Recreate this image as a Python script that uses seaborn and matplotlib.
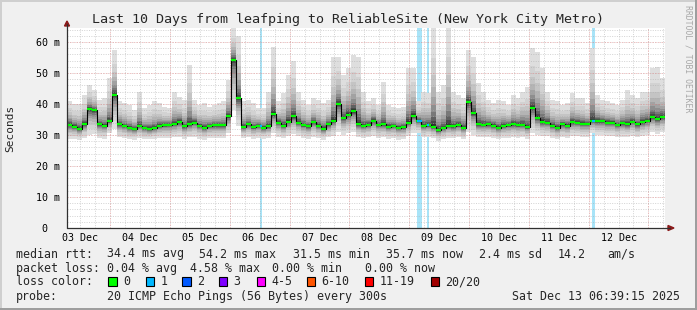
import numpy as np
import pandas as pd
import matplotlib
matplotlib.use("Agg")
import matplotlib.pyplot as plt
import seaborn as sns
from matplotlib.patches import Rectangle, Polygon
from matplotlib.lines import Line2D

# ---------------- data (2-hour bins starting 03 Dec 06:39) ----------------
median_ms = [
    33.3, 32.7, 32.0, 33.5, 38.4, 38.0, 33.4, 33.0, 34.5, 42.9,
    33.5, 32.9, 32.3, 31.9, 33.0, 32.3, 32.0, 32.4, 33.0, 33.2,
    33.3, 33.6, 34.2, 32.8, 33.4, 34.0, 33.0, 32.3, 33.0, 33.1,
    33.1, 33.2, 36.0, 54.2, 41.8, 32.7, 33.4, 32.5, 33.0, 32.4,
    32.8, 36.7, 34.0, 33.0, 34.3, 36.0, 34.0, 33.2, 32.8, 34.2,
    33.0, 32.0, 33.4, 34.5, 40.0, 35.4, 36.5, 37.7, 33.5, 33.0,
    33.3, 34.6, 33.3, 33.4, 32.7, 32.9, 32.4, 32.5, 34.0, 36.2,
    34.5, 33.0, 33.2, 32.7, 31.5, 32.2, 32.9, 32.8, 33.2, 32.3,
    40.5, 37.0, 33.5, 33.3, 33.4, 33.0, 32.3, 33.0, 33.2, 33.5,
    33.2, 33.3, 32.5, 38.8, 35.5, 34.2, 34.0, 32.9, 32.4, 33.4,
    33.0, 34.2, 34.0, 33.6, 33.6, 34.6, 34.5, 34.5, 34.0, 34.0,
    33.3, 33.8, 33.5, 34.3, 33.4, 34.2, 34.6, 35.8, 35.0, 35.7,
]
max_ms = [
    41.0, 39.9, 40.0, 43.0, 46.1, 44.5, 41.3, 41.8, 48.3, 57.4,
    40.8, 40.2, 39.7, 38.0, 44.0, 38.6, 39.7, 40.8, 40.2, 39.1,
    38.6, 44.0, 42.4, 41.3, 52.6, 41.3, 39.7, 40.2, 39.1, 39.7,
    40.2, 40.8, 47.7, 64.5, 62.0, 40.8, 41.3, 40.2, 38.6, 38.6,
    44.0, 58.5, 40.8, 43.4, 49.4, 53.7, 44.0, 41.3, 39.7, 41.8,
    41.3, 40.2, 41.3, 55.3, 55.3, 49.4, 51.5, 55.8, 55.3, 44.0,
    40.8, 41.8, 39.7, 47.2, 39.7, 39.1, 38.6, 39.1, 51.5, 51.6,
    41.0, 44.0, 43.5, 64.5, 44.0, 46.0, 64.5, 44.0, 42.9, 41.8,
    57.4, 55.3, 46.7, 44.0, 41.3, 40.2, 41.3, 40.8, 39.7, 42.9,
    41.8, 44.0, 45.6, 58.0, 56.9, 51.5, 44.0, 41.3, 40.8, 39.7,
    40.2, 43.4, 41.8, 41.8, 40.2, 58.0, 42.9, 41.3, 40.8, 40.2,
    39.7, 41.3, 44.5, 42.9, 41.8, 44.0, 44.0, 51.5, 52.0, 48.3,
]
min_ms = [
    28.6, 28.8, 28.5, 29.0, 30.0, 30.2, 29.0, 28.8, 30.5, 32.0,
    29.2, 28.9, 28.6, 28.5, 29.0, 28.7, 28.6, 28.8, 29.0, 29.1,
    29.0, 29.2, 29.5, 28.8, 29.2, 29.4, 28.8, 28.5, 28.9, 29.0,
    28.9, 29.0, 30.5, 38.0, 33.0, 29.0, 29.3, 28.8, 29.0, 28.7,
    29.0, 30.5, 29.5, 29.0, 29.6, 30.2, 29.6, 29.1, 28.8, 29.5,
    29.0, 28.4, 29.2, 29.8, 31.0, 30.0, 30.5, 31.0, 29.4, 29.0,
    29.2, 29.8, 29.1, 29.2, 28.8, 28.9, 28.5, 28.6, 29.6, 30.6,
    30.6, 29.2, 29.3, 28.9, 28.2, 28.6, 29.0, 28.9, 29.2, 28.6,
    31.0, 30.0, 29.4, 29.3, 29.3, 29.0, 28.6, 29.0, 29.1, 29.3,
    29.1, 29.2, 28.8, 30.5, 30.0, 29.8, 29.6, 29.0, 28.6, 29.2,
    29.0, 29.7, 29.6, 29.4, 29.4, 30.6, 29.9, 29.9, 29.6, 29.6,
    29.2, 29.5, 29.3, 29.8, 29.2, 29.7, 30.0, 30.8, 30.4, 30.8,
]
# packet-loss (1/20) periods, hours after 03 Dec 00:00
loss_start_h = [84.1, 147.0, 151.0, 217.35]
loss_end_h = [84.9, 149.0, 152.05, 218.55]

day_labels = ["03 Dec", "04 Dec", "05 Dec", "06 Dec", "07 Dec",
              "08 Dec", "09 Dec", "10 Dec", "11 Dec", "12 Dec"]
ytick_vals = [0, 10, 20, 30, 40, 50, 60]
ytick_labels = ["0\u00a0\u00a0", "10 m", "20 m", "30 m", "40 m", "50 m", "60 m"]

title = "Last 10 Days from leafping to ReliableSite (New York City Metro)"
legend_rows = [
    [("median rtt:", 16), ("34.4 ms avg", 107), ("54.2 ms max", 199),
     ("31.5 ms min", 293), ("35.7 ms now", 385.5), ("2.4 ms sd", 479),
     ("14.2", 558), ("am/s", 607)],
    [("packet loss:", 16), ("0.04 % avg", 107), ("4.58 % max", 190.5),
     ("0.00 % min", 271.5), ("0.00 % now", 365)],
]
loss_labels = ["0", "1", "2", "3", "4-5", "6-10", "11-19", "20/20"]
loss_colors = ["#00ff00", "#00b8ff", "#0059ff", "#7e00ff",
               "#ff00ff", "#ff5500", "#ff0000", "#a10000"]
loss_box_x = [108.3, 145.7, 182.3, 219.0, 256.7, 306.7, 365.0, 430.7]
probe_text = "20 ICMP Echo Pings (56 Bytes) every 300s"
date_text = "Sat Dec 13 06:39:15 2025"

# ---------------- figure ----------------
W, H = 697, 310
sns.set_theme(style="white")
plt.rcParams["font.family"] = ["DejaVu Sans Mono", "DejaVu Sans"]
plt.rcParams["lines.scale_dashes"] = False

def fx(px):
    return px / W

def fy(py):
    return 1 - py / H

fig = plt.figure(figsize=(W / 100, H / 100), dpi=100, facecolor="#f0f0f0")
L, R, T, B = 67, 665, 28, 228
ax = fig.add_axes([fx(L), fy(B), (R - L) / W, (B - T) / H])
ax.set_facecolor("white")
for s in ax.spines.values():
    s.set_visible(False)

t0 = 6.65
bin_h = 2.0
med = np.array(median_ms)
hi = np.array(max_ms)
lo = np.array(min_ms)
n = len(med)
edges = t0 + bin_h * np.arange(n + 1)
ax.set_xlim(t0, t0 + 240)
ax.set_ylim(0, 64.5)

# loss bands
for s, e in zip(loss_start_h, loss_end_h):
    ax.axvspan(s, e, color="#a8e4f8", lw=0, zorder=1)

# smoke
up_frac = [1.0, 0.7, 0.52, 0.4, 0.3, 0.22, 0.15, 0.1, 0.06, 0.03]
dn_frac = [1.0, 0.78, 0.6, 0.47, 0.36, 0.27, 0.19, 0.12, 0.07, 0.035]
grays = [222, 210, 196, 180, 162, 142, 120, 96, 72, 48]
for fu, fd, g in zip(up_frac, dn_frac, grays):
    top = med + (hi - med) * fu
    bot = med - (med - lo) * fd
    c = "#%02x%02x%02x" % (g, g, g)
    ax.fill_between(edges, np.append(bot, bot[-1]), np.append(top, top[-1]),
                    step="post", color=c, lw=0, edgecolor="none", zorder=2)

# grid
for h in np.arange(12, 247, 6):
    ax.axvline(h, color="#ababab", alpha=0.5, lw=0.72, dashes=(0.72, 1.0), zorder=3)
for h in np.arange(24, 247, 24):
    ax.axvline(h, color="#ff5555", alpha=0.4, lw=0.72, dashes=(0.72, 1.44), zorder=3)
for v in np.arange(2, 65, 2):
    ax.axhline(v, color="#ababab", alpha=0.5, lw=0.72, dashes=(0.72, 1.0), zorder=3)
for v in np.arange(10, 61, 10):
    ax.axhline(v, color="#ff5555", alpha=0.4, lw=0.72, dashes=(0.72, 1.44), zorder=3)

# median line
df = pd.DataFrame({"t": edges, "ms": np.append(med, med[-1])})
sns.lineplot(data=df, x="t", y="ms", drawstyle="steps-post", color="black",
             lw=0.8, estimator=None, ax=ax, zorder=4)
ax.hlines(med, edges[:-1], edges[1:], colors="#00ff00", lw=1.6, zorder=5)
for s, e in zip(loss_start_h, loss_end_h):
    idx = int((0.5 * (s + e) - t0) // bin_h)
    ax.hlines(med[idx], s, e, colors="#00b8ff", lw=1.6, zorder=6)

ax.set_xlabel("")
ax.set_ylabel("")
ax.set_xticks([12 + 24 * k for k in range(len(day_labels))], day_labels)
ax.set_yticks(ytick_vals, ytick_labels)
ax.tick_params(axis="both", length=0, labelsize=7.2, colors="black")
ax.tick_params(axis="x", pad=3.5)
ax.tick_params(axis="y", pad=5)

# axes lines and arrows
fig.add_artist(Line2D([fx(L), fx(L)], [fy(B), fy(24)], color="#303030", lw=0.9))
fig.add_artist(Line2D([fx(L), fx(670)], [fy(B), fy(B)], color="#303030", lw=0.9))
fig.add_artist(Polygon([[fx(64.5), fy(26)], [fx(69.5), fy(26)], [fx(67), fy(21)]],
                       closed=True, color="#8b1a1a", transform=fig.transFigure))
fig.add_artist(Polygon([[fx(668), fy(225.5)], [fx(668), fy(230.5)], [fx(674), fy(228)]],
                       closed=True, color="#8b1a1a", transform=fig.transFigure))

# texts
fig.text(fx(347.5), fy(19), title, ha="center", va="center", fontsize=9.6)
fig.text(fx(10), fy(128), "Seconds", rotation=90, ha="center", va="center", fontsize=8.0)
fig.text(fx(688), fy(5), "RRDTOOL / TOBI OETIKER", rotation=-90, ha="center",
         va="top", fontsize=5.9, color="#a8a8a8")

row_y = [254, 268.3, 281.7, 296.3]
for row, yy in zip(legend_rows, row_y[:2]):
    for txt, xx in row:
        fig.text(fx(xx), fy(yy), txt, ha="left", va="center", fontsize=8.4)
fig.text(fx(16), fy(row_y[2]), "loss color:", ha="left", va="center", fontsize=8.4)
for lab, col, bx in zip(loss_labels, loss_colors, loss_box_x):
    fig.add_artist(Rectangle((fx(bx), fy(286)), 8.4 / W, 9 / H, facecolor=col,
                             edgecolor="black", lw=0.8, transform=fig.transFigure))
    fig.text(fx(bx + 14.5), fy(row_y[2]), lab, ha="left", va="center", fontsize=8.4)
fig.text(fx(16), fy(row_y[3]), "probe:", ha="left", va="center", fontsize=8.4)
fig.text(fx(107), fy(row_y[3]), probe_text, ha="left", va="center", fontsize=8.4)
fig.text(fx(680), fy(row_y[3]), date_text, ha="right", va="center", fontsize=8.4)

# outer bevel border
fig.add_artist(Rectangle((0, fy(2)), 1, 2 / H, color="#cfcfcf", transform=fig.transFigure, lw=0))
fig.add_artist(Rectangle((0, 0), 2 / W, 1, color="#cfcfcf", transform=fig.transFigure, lw=0))
fig.add_artist(Rectangle((0, 0), 1, 2 / H, color="#9e9e9e", transform=fig.transFigure, lw=0))
fig.add_artist(Rectangle((fx(695), 0), 2 / W, 1, color="#9e9e9e", transform=fig.transFigure, lw=0))

fig.savefig("out.png", dpi=100, facecolor=fig.get_facecolor())
